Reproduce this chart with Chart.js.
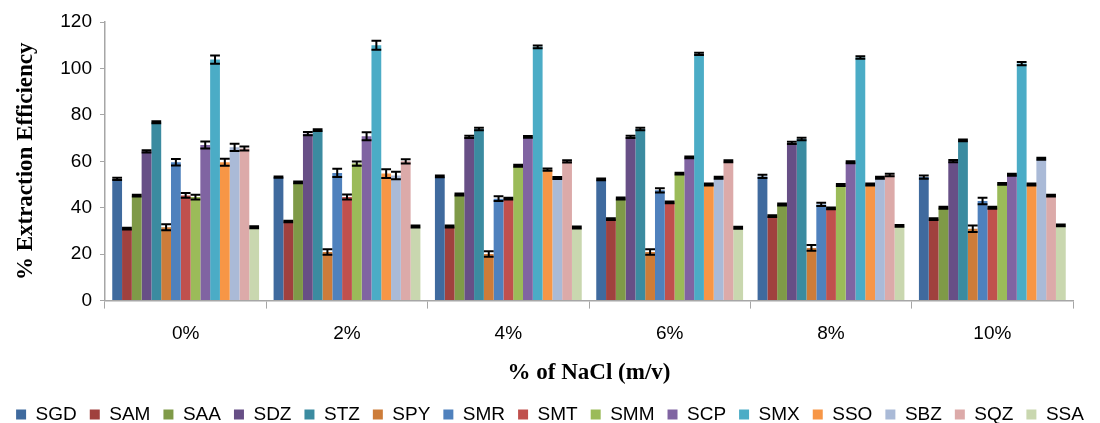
<!DOCTYPE html>
<html>
<head>
<meta charset="utf-8">
<script src="https://cdn.jsdelivr.net/npm/chart.js@4"></script>
<style>
  html, body { margin: 0; padding: 0; background: #fff; }
  #wrap { width: 1100px; height: 423px; }
</style>
</head>
<body>
<div id="wrap"><canvas id="nacl"></canvas></div>
<script>
// categories (x axis)
const categories = ['0%', '2%', '4%', '6%', '8%', '10%'];

// series names and colours
const seriesNames = ['SGD', 'SAM', 'SAA', 'SDZ', 'STZ', 'SPY', 'SMR', 'SMT', 'SMM', 'SCP', 'SMX', 'SSO', 'SBZ', 'SQZ', 'SSA'];
const seriesColors = ['#3F6A9E', '#A0413E', '#7F9A48', '#674F86', '#3B8BA0', '#CD7C39', '#4F81BD', '#C0504D',
  '#9BBB59', '#8064A2', '#4BACC6', '#F79646', '#AABAD7', '#DCAAA9', '#C9D7AF'];

// % extraction efficiency, one array per analyte (0%, 2%, 4%, 6%, 8%, 10%)
const SGD = [52.4, 53.2, 53.5, 52.2, 53.5, 53.2];
const SAM = [31.0, 34.1, 31.9, 35.1, 36.4, 35.1];
const SAA = [45.2, 50.9, 45.7, 44.0, 41.4, 40.0];
const SDZ = [64.3, 71.9, 70.5, 70.5, 67.9, 60.1];
const STZ = [76.8, 73.4, 73.9, 73.9, 69.6, 69.0];
const SPY = [31.6, 20.9, 20.1, 20.9, 22.7, 30.9];
const SMR = [59.6, 55.0, 43.9, 47.5, 41.4, 42.9];
const SMT = [45.3, 44.6, 43.9, 42.3, 39.7, 40.0];
const SMM = [44.6, 59.0, 58.1, 54.7, 49.8, 50.3];
const SCP = [67.0, 70.8, 70.5, 61.7, 59.6, 54.2];
const SMX = [103.8, 110.0, 109.3, 106.3, 104.7, 102.1];
const SSO = [59.6, 54.7, 56.4, 50.0, 50.0, 50.0];
const SBZ = [66.0, 53.9, 52.8, 52.9, 52.9, 61.1];
const SQZ = [65.5, 60.0, 60.0, 60.0, 54.1, 45.2];
const SSA = [31.6, 31.9, 31.5, 31.4, 32.2, 32.4];
const seriesValues = [SGD, SAM, SAA, SDZ, STZ, SPY, SMR, SMT, SMM, SCP, SMX, SSO, SBZ, SQZ, SSA];

// standard deviations (error bars)
const seriesErrors = [
  [0.5, 0.3, 0.4, 0.4, 0.7, 0.7],
  [0.4, 0.3, 0.4, 0.4, 0.4, 0.4],
  [0.4, 0.4, 0.4, 0.4, 0.4, 0.4],
  [0.5, 0.7, 0.5, 0.5, 0.5, 0.5],
  [0.4, 0.4, 0.5, 0.5, 0.5, 0.4],
  [1.3, 1.2, 1.2, 1.2, 1.2, 1.4],
  [1.4, 1.8, 1.0, 0.9, 0.7, 1.4],
  [1.0, 1.1, 0.4, 0.4, 0.4, 0.4],
  [1.0, 0.9, 0.4, 0.4, 0.4, 0.4],
  [1.5, 1.7, 0.4, 0.4, 0.4, 0.4],
  [1.8, 1.9, 0.6, 0.5, 0.5, 0.7],
  [1.5, 1.9, 0.5, 0.4, 0.4, 0.4],
  [1.6, 1.6, 0.4, 0.4, 0.4, 0.4],
  [0.9, 0.9, 0.5, 0.4, 0.5, 0.4],
  [0.4, 0.4, 0.4, 0.4, 0.4, 0.4]
];

// y axis ticks
const yMin = 0, yMax = 120, yStep = 20;

// draws the black error bars using the chart's own scales
const errorBars = {
  id: 'errorBars',
  afterDatasetsDraw(chart) {
    const c = chart.ctx;
    const y = chart.scales.y;
    c.save();
    c.strokeStyle = '#000';
    c.lineWidth = 2;
    chart.data.datasets.forEach((ds, i) => {
      const meta = chart.getDatasetMeta(i);
      meta.data.forEach((bar, j) => {
        const v = ds.data[j], e = seriesErrors[i][j];
        const yt = y.getPixelForValue(v + e), yb = y.getPixelForValue(v - e);
        const half = bar.width / 2;
        c.beginPath();
        c.moveTo(bar.x, yt); c.lineTo(bar.x, yb);
        c.moveTo(bar.x - half, yt); c.lineTo(bar.x + half, yt);
        c.moveTo(bar.x - half, yb); c.lineTo(bar.x + half, yb);
        c.stroke();
      });
    });
    c.restore();
  }
};

const ctx = document.getElementById('nacl').getContext('2d');

const datasets = seriesNames.map((name, i) => ({
  label: name,
  data: seriesValues[i],
  backgroundColor: seriesColors[i],
  borderWidth: 0,
  barPercentage: 1.0,
  categoryPercentage: 0.91
}));

new Chart(ctx, {
  type: 'bar',
  data: { labels: categories, datasets: datasets },
  plugins: [errorBars],
  options: {
    responsive: true,
    maintainAspectRatio: false,
    animation: false,
    layout: { padding: { left: 0, right: 0, top: 22, bottom: -11 } },
    plugins: {
      legend: {
        position: 'bottom',
        labels: {
          boxWidth: 10,
          boxHeight: 10,
          padding: 13,
          color: '#000',
          font: { family: 'Liberation Sans', size: 19 }
        }
      },
      tooltip: { enabled: false }
    },
    scales: {
      x: {
        grid: {
          offset: true,
          drawOnChartArea: false,
          drawTicks: true,
          tickLength: 8,
          color: '#A6A6A6'
        },
        border: { color: '#A6A6A6', width: 1.5 },
        ticks: {
          color: '#000',
          padding: 14,
          font: { family: 'Liberation Sans', size: 19 }
        },
        title: {
          display: true,
          text: '% of NaCl (m/v)',
          color: '#000',
          padding: { top: 0, bottom: 5 },
          font: { family: 'Liberation Serif', size: 23, weight: 'bold' }
        }
      },
      y: {
        min: yMin,
        max: yMax,
        afterFit: (s) => { s.width = 105; },
        grid: {
          drawOnChartArea: false,
          drawTicks: true,
          tickLength: 5,
          color: '#A6A6A6'
        },
        border: { color: '#A6A6A6', width: 1.5 },
        ticks: {
          stepSize: yStep,
          color: '#000',
          padding: 8,
          font: { family: 'Liberation Sans', size: 19 }
        },
        title: {
          display: true,
          text: '% Extraction Efficiency',
          color: '#000',
          padding: { top: 12, bottom: 10 },
          font: { family: 'Liberation Serif', size: 23, weight: 'bold' }
        }
      },
      yRight: {
        position: 'right',
        display: true,
        afterFit: (s) => { s.width = 27; },
        grid: { display: false },
        border: { display: false },
        ticks: { display: false }
      }
    }
  }
});
</script>
</body>
</html>
